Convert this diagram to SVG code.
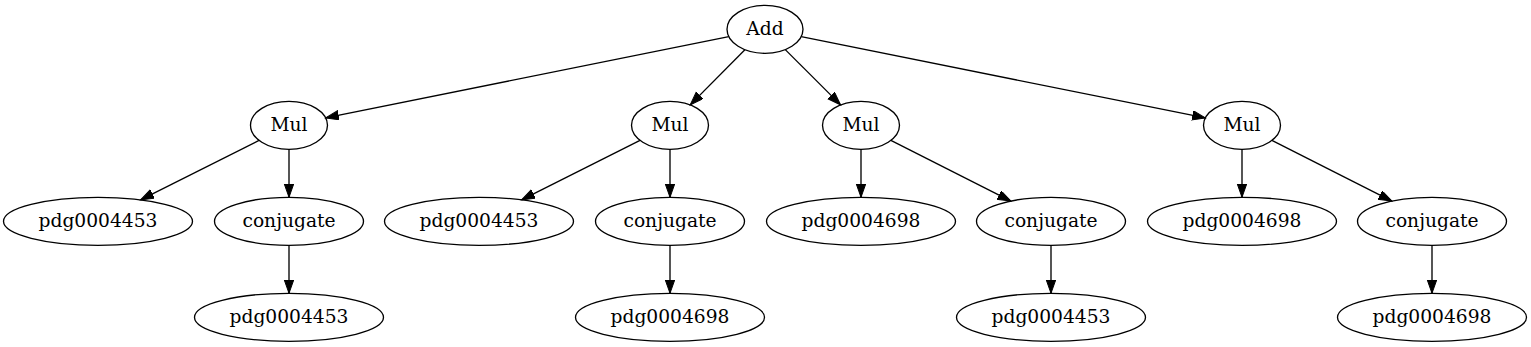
<svg xmlns="http://www.w3.org/2000/svg" width="1531" height="347" viewBox="0 0 1531 347">
<style>
.n ellipse{fill:none;stroke:#000;stroke-width:1.33}
.n text{font-family:"DejaVu Serif","Liberation Serif",serif;font-size:18.67px;text-anchor:middle;fill:#000}
.e path{fill:none;stroke:#000;stroke-width:1.33;marker-end:url(#arr)}
</style>
<defs>
<marker id="arr" markerUnits="userSpaceOnUse" markerWidth="15" markerHeight="11" refX="13.3" refY="4.7" orient="auto" viewBox="0 0 15 11">
<path d="M0,0 L13.3,4.7 L0,9.4 z" fill="#000" stroke="#000" stroke-width="1"/>
</marker>
</defs>
<rect width="1531" height="347" fill="#fff"/>
<g id="edges" class="e">
<path d="M728.8,36.6 L325.6,117.9"/>
<path d="M744.9,49.7 L690.2,104.9"/>
<path d="M785.3,49.6 L840.6,104.9"/>
<path d="M801.2,36.6 L1205.4,117.9"/>
<path d="M259,140.4 L140.6,199.9"/>
<path d="M289,149.3 L289,197.3"/>
<path d="M640,140.4 L521.6,199.9"/>
<path d="M670,149.3 L670,197.3"/>
<path d="M861,149.3 L861,197.3"/>
<path d="M890.9,140.4 L1010.9,201.1"/>
<path d="M1242,149.3 L1242,197.3"/>
<path d="M1271.9,140.4 L1391.9,201.1"/>
<path d="M289,245.3 L289,293.3"/>
<path d="M670,245.3 L670,293.3"/>
<path d="M1051,245.3 L1051,293.3"/>
<path d="M1432,245.3 L1432,293.3"/>
</g>
<g id="add" class="n"><ellipse cx="765" cy="29.3" rx="38" ry="24"/><text x="765" y="34.6">Add</text></g>
<g id="mul1" class="n"><ellipse cx="289" cy="125.3" rx="38.5" ry="24"/><text x="289" y="130.6">Mul</text></g>
<g id="mul2" class="n"><ellipse cx="670" cy="125.3" rx="38.5" ry="24"/><text x="670" y="130.6">Mul</text></g>
<g id="mul3" class="n"><ellipse cx="861" cy="125.3" rx="38.5" ry="24"/><text x="861" y="130.6">Mul</text></g>
<g id="mul4" class="n"><ellipse cx="1242" cy="125.3" rx="38.5" ry="24"/><text x="1242" y="130.6">Mul</text></g>
<g id="p1" class="n"><ellipse cx="98" cy="221.3" rx="94.5" ry="24"/><text x="98" y="226.6">pdg0004453</text></g>
<g id="c1" class="n"><ellipse cx="289" cy="221.3" rx="74.5" ry="24"/><text x="289" y="226.6">conjugate</text></g>
<g id="p2" class="n"><ellipse cx="289" cy="317.3" rx="94.5" ry="24"/><text x="289" y="322.6">pdg0004453</text></g>
<g id="p3" class="n"><ellipse cx="479" cy="221.3" rx="94.5" ry="24"/><text x="479" y="226.6">pdg0004453</text></g>
<g id="c2" class="n"><ellipse cx="670" cy="221.3" rx="74.5" ry="24"/><text x="670" y="226.6">conjugate</text></g>
<g id="p4" class="n"><ellipse cx="670" cy="317.3" rx="94.5" ry="24"/><text x="670" y="322.6">pdg0004698</text></g>
<g id="p5" class="n"><ellipse cx="861" cy="221.3" rx="94.5" ry="24"/><text x="861" y="226.6">pdg0004698</text></g>
<g id="c3" class="n"><ellipse cx="1051" cy="221.3" rx="74.5" ry="24"/><text x="1051" y="226.6">conjugate</text></g>
<g id="p6" class="n"><ellipse cx="1051" cy="317.3" rx="94.5" ry="24"/><text x="1051" y="322.6">pdg0004453</text></g>
<g id="p7" class="n"><ellipse cx="1242" cy="221.3" rx="94.5" ry="24"/><text x="1242" y="226.6">pdg0004698</text></g>
<g id="c4" class="n"><ellipse cx="1432" cy="221.3" rx="74.5" ry="24"/><text x="1432" y="226.6">conjugate</text></g>
<g id="p8" class="n"><ellipse cx="1432" cy="317.3" rx="94.5" ry="24"/><text x="1432" y="322.6">pdg0004698</text></g>
</svg>
